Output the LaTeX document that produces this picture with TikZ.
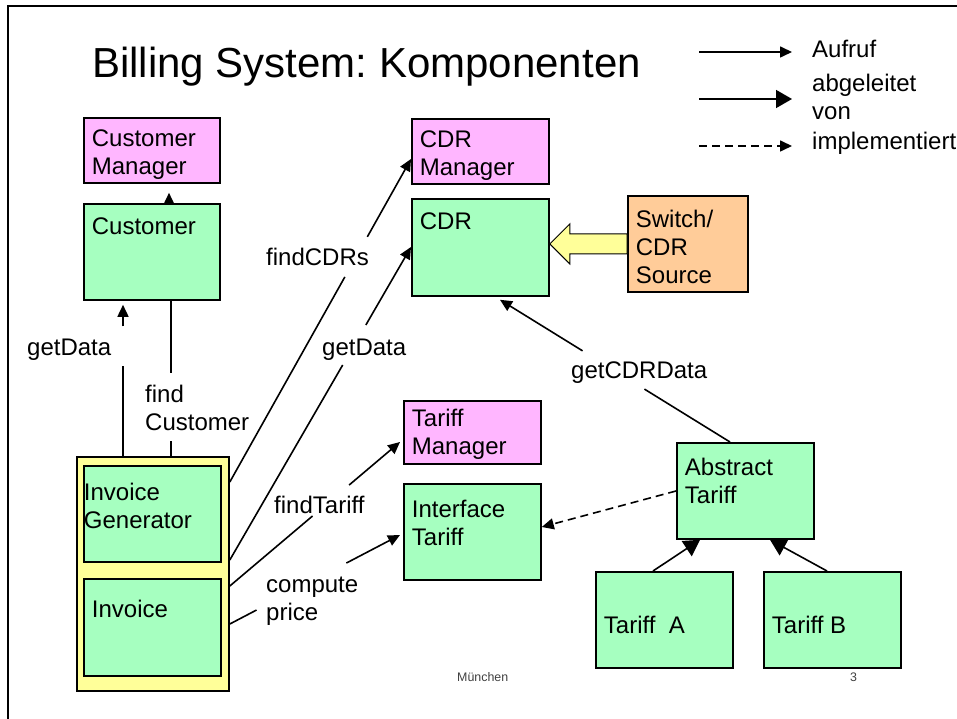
\documentclass[tikz,border=0pt]{standalone}
\usepackage{fontspec}
\setmainfont{Liberation Sans}
\usetikzlibrary{arrows.meta,calc}
\frenchspacing

\definecolor{compgreen}{HTML}{A6FFC0}
\definecolor{mgrpink}{HTML}{FFB6FF}
\definecolor{srcorange}{HTML}{FFCC99}
\definecolor{packyellow}{HTML}{FFFF99}
\definecolor{footgray}{HTML}{404040}

\newcommand\lblfont{\fontsize{24}{28}\selectfont}
% box text: width, height, extra top offset, lines
\newcommand\bt[4]{\parbox[t][#2pt][t]{#1pt}{\vspace*{#3pt}\raggedright #4}}
\newcommand\ml[1]{\parbox[t]{160pt}{\raggedright #1}}

\begin{document}
\begin{tikzpicture}[x=1pt,y=-1pt,
  box/.style={draw, line width=1.8pt, anchor=north west, inner xsep=8pt, inner ysep=12pt, font=\lblfont},
  gbox/.style={box, fill=compgreen},
  pbox/.style={box, fill=mgrpink},
  obox/.style={box, fill=srcorange},
  lbl/.style={anchor=base west, inner sep=0pt, font=\lblfont},
  conn/.style={line width=1.6pt},
  call/.style={conn, -{Triangle[length=12pt,width=11pt]}},
  inherit/.style={conn, -{Triangle[length=16pt,width=18pt]}},
  impl/.style={call, dash pattern=on 8pt off 5pt},
]
\useasboundingbox (0,0) rectangle (957,719);

% slide frame
\draw[line width=1.3pt] (8,719) -- (8,6) -- (957,6);

% title
\node[anchor=base west, inner sep=0pt, font=\fontsize{42}{50}\selectfont] (title) at (92,78) {Billing System: Komponenten};

% legend
\coordinate (lg1a) at (699,52);  \coordinate (lg1b) at (792,52);
\coordinate (lg2a) at (699,99);  \coordinate (lg2b) at (792,99);
\coordinate (lg3a) at (699,146); \coordinate (lg3b) at (792,146);
\draw[call] (lg1a) -- (lg1b);
\draw[inherit] (lg2a) -- (lg2b);
\draw[impl] (lg3a) -- (lg3b);
\node[lbl] (lgt1) at (812,58) {Aufruf};
\node[lbl] (lgt2) at (812,92) {\ml{abgeleitet\\von}};
\node[lbl] (lgt3) at (812,150) {implementiert};

% invoice package
\node[box, fill=packyellow, inner sep=0pt, minimum width=152pt, minimum height=234pt] (invc) at (76,456) {};

% components
\node[pbox] (cm)   at (83,117)  {\bt{120}{41}{0}{Customer\\Manager}};
\node[gbox] (cust) at (83,203)  {\bt{120}{72}{2}{Customer}};
\node[pbox] (cdrm) at (411,118) {\bt{121}{41}{0}{CDR\\Manager}};
\node[gbox] (cdr)  at (411,198) {\bt{121}{73}{2}{CDR}};
\node[pbox] (tm)   at (403,400) {\bt{121}{39}{-4}{Tariff\\Manager}};
\node[gbox] (it)   at (403,483) {\bt{121}{72}{4}{Interface\\Tariff}};
\node[gbox] (at)   at (676,442) {\bt{121}{72}{3}{Abstract\\Tariff}};
\node[gbox] (ta)   at (595,571) {\bt{121}{72}{32}{Tariff\ \ A}};
\node[gbox] (tb)   at (763,571) {\bt{121}{72}{32}{Tariff B}};
\node[gbox, inner xsep=0pt] (ig) at (83,465) {\bt{137}{72}{5}{Invoice\\Generator}};
\node[gbox] (inv)  at (83,578)  {\bt{121}{73}{9}{Invoice}};

% CDR feed from the switch
\node[obox] (sw) at (627,195) {\bt{104}{72}{2}{Switch/\\CDR\\Source}};
\coordinate (feedtip) at (cdr.east |- sw.west);
\draw[line width=1pt, fill=packyellow]
  (feedtip) -- ++(20,-20) -- ++(0,10) -- ($(sw.west)+(0,-10)$)
  -- ($(sw.west)+(0,10)$) -- ($(feedtip)+(20,10)$) -- ++(0,10) -- cycle;

% Customer -> Customer Manager
\draw[call, shorten >=9pt] ($(cust.north west)+(86,0)$) -- ($(cm.south west)+(86,0)$);

% getData (Customer)
\coordinate (gdA) at ($(invc.north west)+(47,0)$);
\coordinate (gdB) at ($(cust.south west)+(40,4)$);
\draw[conn] (gdA) -- ($(gdA)!0.597!(gdB)$);
\draw[call] ($(gdA)!0.857!(gdB)$) -- (gdB);
\node[lbl] (lgd1) at (27,355) {getData};

% find Customer
\coordinate (fcA) at ($(cust.south west)+(88,0)$);
\coordinate (fcB) at ($(invc.north west)+(95,0)$);
\draw[conn] (fcA) -- ($(fcA)!0.462!(fcB)$);
\draw[conn] ($(fcA)!0.905!(fcB)$) -- (fcB);
\node[lbl] (lfc) at (145,402) {\ml{find\\Customer}};

% findCDRs
\coordinate (fdA) at ($(invc.north east)+(0,26)$);
\coordinate (fdB) at ($(cdrm.north west)+(0,41)$);
\draw[conn] (fdA) -- ($(fdA)!0.635!(fdB)$);
\draw[call] ($(fdA)!0.759!(fdB)$) -- (fdB);
\node[lbl] (lfd) at (266,265) {findCDRs};

% getData (CDR)
\coordinate (gcA) at ($(invc.north east)+(0,104)$);
\coordinate (gcB) at ($(cdr.north west)+(0,49)$);
\draw[conn] (gcA) -- ($(gcA)!0.623!(gcB)$);
\draw[call] ($(gcA)!0.751!(gcB)$) -- (gcB);
\node[lbl] (lgd2) at (322,355) {getData};

% findTariff
\coordinate (ftA) at ($(invc.north east)+(0,130)$);
\coordinate (ftB) at ($(tm.north west)+(-3,42)$);
\draw[conn] (ftA) -- ($(ftA)!0.486!(ftB)$);
\draw[call] ($(ftA)!0.701!(ftB)$) -- (ftB);
\node[lbl] (lft) at (274,513) {findTariff};

% compute price
\coordinate (cpA) at ($(invc.north east)+(0,168)$);
\coordinate (cpB) at ($(it.north west)+(-3,52)$);
\draw[conn] (cpA) -- ($(cpA)!0.157!(cpB)$);
\draw[call] ($(cpA)!0.685!(cpB)$) -- (cpB);
\node[lbl] (lcp) at (266,592) {\ml{compute\\price}};

% getCDRData
\coordinate (gdrA) at ($(at.north west)+(54,0)$);
\coordinate (gdrB) at ($(cdr.south west)+(89,3)$);
\draw[conn] (gdrA) -- ($(gdrA)!0.372!(gdrB)$);
\draw[call] ($(gdrA)!0.641!(gdrB)$) -- (gdrB);
\node[lbl] (lgdr) at (571,378) {getCDRData};

% Abstract Tariff implements Interface Tariff
\draw[impl] ($(at.north west)+(0,49)$) -- ($(it.north east)+(0,44)$);

% Tariff A / B derived from Abstract Tariff
\draw[inherit] ($(ta.north west)+(58,0)$) -- ($(at.south west)+(24,0)$);
\draw[inherit] ($(tb.north west)+(64,0)$) -- ($(at.south west)+(94,0)$);

% footer
\node[anchor=base west, inner sep=0pt, font=\fontsize{12.4}{14}\selectfont, text=footgray] (foot) at (457,681) {München};
\node[anchor=base west, inner sep=0pt, font=\fontsize{12.4}{14}\selectfont, text=footgray] (page) at (850,681) {3};
\end{tikzpicture}
\end{document}
